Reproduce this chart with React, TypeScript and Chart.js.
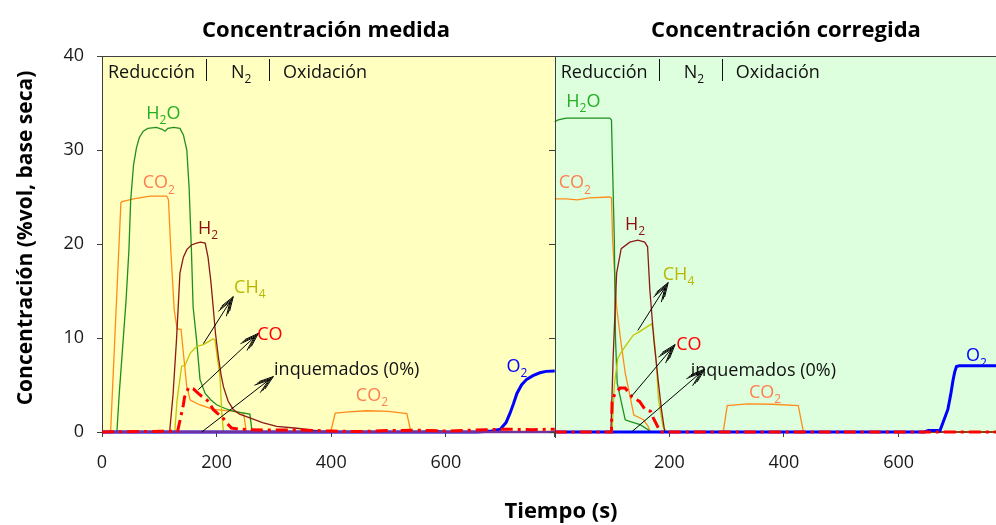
import { useEffect, useRef } from "react";
import { Chart, registerables } from "chart.js";
Chart.register(...registerables);

// ---------- axes ----------
const X_MAX_MEDIDA = 790;
const X_MAX_CORREGIDA = 770;
const X_TICKS_MEDIDA = [0, 200, 400, 600];
const X_TICKS_CORREGIDA = [200, 400, 600];
const Y_MIN = 0;
const Y_MAX = 40;
const Y_STEP = 10;

const TITLE_MEDIDA = "Concentración medida";
const TITLE_CORREGIDA = "Concentración corregida";
const Y_TITLE = "Concentración (%vol, base seca)";
const X_TITLE = "Tiempo (s)";
const PHASES = ["Reducción", "N_2", "Oxidación"];

// ---------- Concentración medida (time s, %vol) ----------
const H2O_M_T = [0, 26, 30, 36, 42, 47, 50, 55, 60, 65, 72, 80, 95, 105, 110, 115, 125, 136, 142, 148, 152, 156, 159, 165, 171, 180, 190, 200, 215, 230, 258, 262, 790];
const H2O_M = [0, 0, 4, 9, 14, 19.4, 24.6, 28.4, 30.2, 31.3, 32.0, 32.3, 32.4, 32.2, 32.0, 32.3, 32.4, 32.3, 31.6, 30.0, 26, 19.4, 13.3, 9.8, 5.6, 4.1, 3.4, 2.9, 2.5, 2.2, 1.9, 0, 0];

const CO2_M_T = [0, 15, 33, 35, 55, 84, 113, 116, 120, 126, 131, 138, 142, 148, 154, 170, 194, 212, 230, 247, 252, 399, 407, 430, 462, 500, 532, 539, 790];
const CO2_M = [0, 0, 24.4, 24.5, 24.8, 25.1, 25.1, 24.7, 19.4, 13, 11.0, 10.9, 8.4, 4.8, 3.4, 2.9, 2.4, 2.3, 2.2, 2.0, 0, 0, 2.0, 2.15, 2.26, 2.2, 1.95, 0, 0];

const H2_M_T = [0, 118, 124, 130, 136, 142, 148, 156, 165, 172, 180, 185, 190, 194, 198, 203, 208, 212, 220, 229, 240, 258, 280, 305, 340, 380, 400, 560, 575, 590, 605, 790];
const H2_M = [0, 0, 4, 9.8, 16.9, 18.6, 19.4, 19.9, 20.1, 20.2, 20.1, 18.6, 16, 13.3, 10.5, 8.0, 6.0, 4.8, 3.3, 2.4, 1.9, 1.5, 1.0, 0.6, 0.4, 0.1, 0, 0, 0.2, 0.1, 0, 0];

const CH4_M_T = [0, 127, 131, 139, 145, 154, 165, 177, 188, 194, 197, 206, 209, 212, 790];
const CH4_M = [0, 0, 3.4, 7.0, 7.1, 8.4, 9.1, 9.3, 9.7, 9.9, 9.8, 5.8, 2.0, 0, 0];

const CO_M_T = [0, 132, 137, 142, 144, 151, 159, 168, 174, 186, 194, 201, 209, 218, 226, 238, 260, 300, 350, 400, 450, 500, 550, 600, 650, 700, 750, 790];
const CO_M = [0, 0.1, 1.5, 2.9, 3.7, 4.7, 4.6, 4.1, 3.8, 3.25, 2.4, 2.0, 1.66, 0.95, 0.42, 0.3, 0.25, 0.2, 0.2, 0.1, 0.05, 0.15, 0.2, 0.1, 0.2, 0.3, 0.25, 0.3];

const O2_M_T = [0, 655, 680, 695, 705, 712, 718, 724, 732, 741, 752, 764, 775, 790];
const O2_M = [0, 0, 0.1, 0.3, 1.0, 2.0, 3.0, 4.1, 5.0, 5.6, 6.0, 6.3, 6.45, 6.5];

const INQ_M_T = [0, 790];
const INQ_M = [0, 0];

// ---------- Concentración corregida (time s, %vol) ----------
const H2O_C_T = [0, 6, 20, 96, 99, 101, 104, 106, 109, 114, 123, 132, 149, 163, 166, 770];
const H2O_C = [33.0, 33.2, 33.4, 33.4, 33.2, 28, 20.4, 10, 5.2, 3.8, 1.3, 1.1, 0.78, 0.24, 0, 0];

const CO2_C_T = [0, 20, 40, 60, 96, 99, 101, 108, 115, 123, 129, 135, 138, 155, 163, 167, 294, 301, 337, 380, 425, 434, 770];
const CO2_C = [24.8, 24.8, 24.7, 24.9, 25.0, 24.9, 20.4, 13.3, 9.8, 6.3, 4.5, 2.7, 1.8, 1.3, 0.6, 0, 0, 2.8, 3.0, 2.95, 2.8, 0, 0];

const H2_C_T = [0, 98, 102, 108, 116, 131, 145, 157, 162, 166, 173, 181, 186, 192, 770];
const H2_C = [0, 0, 8, 16.9, 19.5, 20.2, 20.4, 20.2, 19.7, 15.1, 9.8, 5.2, 2.5, 0, 0];

const CH4_C_T = [0, 100, 104, 110, 115, 123, 137, 146, 169, 172, 177, 181, 189, 196, 770];
const CH4_C = [0, 0, 5, 7.8, 8.4, 9.1, 10.3, 10.6, 11.5, 10.8, 7.7, 3.5, 0.5, 0, 0];

const CO_C_T = [0, 99, 100, 105, 114, 123, 132, 135, 148, 158, 167, 172, 181, 185, 770];
const CO_C = [0, 0, 3.2, 4.1, 4.67, 4.67, 3.96, 3.7, 3.25, 2.37, 2.2, 1.5, 0.4, 0, 0];

const O2_C_T = [0, 645, 652, 668, 672, 678, 686, 691, 695, 698, 701, 706, 712, 770];
const O2_C = [0, 0, 0.15, 0.15, 0.1, 1.1, 2.4, 4.0, 5.5, 6.4, 6.96, 7.04, 7.05, 7.05];

// ---------- annotations (data coords: panel time, %vol) ----------
const LABELS_MEDIDA = [
  { text: "H_2O", x: 107, y: 34.0, color: "#22b022" },
  { text: "CO_2", x: 99, y: 26.6, color: "#ff7f50" },
  { text: "H_2", x: 185, y: 21.8, color: "#8b1010" },
  { text: "CH_4", x: 258, y: 15.5, color: "#b8b800" },
  { text: "CO", x: 293, y: 10.5, color: "#ff0000" },
  { text: "inquemados (0%)", x: 427, y: 6.8, color: "#111111" },
  { text: "CO_2", x: 471, y: 4.0, color: "#ff7f50" },
  { text: "O_2", x: 724, y: 7.1, color: "#0000ff" },
];
const LABELS_CORREGIDA = [
  { text: "H_2O", x: 50, y: 35.3, color: "#22b022" },
  { text: "CO_2", x: 35, y: 26.6, color: "#ff7f50" },
  { text: "H_2", x: 140, y: 22.2, color: "#8b1010" },
  { text: "CH_4", x: 216, y: 16.9, color: "#b8b800" },
  { text: "CO", x: 234, y: 9.4, color: "#ff0000" },
  { text: "inquemados (0%)", x: 364, y: 6.6, color: "#111111" },
  { text: "CO_2", x: 367, y: 4.3, color: "#ff7f50" },
  { text: "O_2", x: 736, y: 8.2, color: "#0000ff" },
];
const ARROWS_MEDIDA = [
  { x0: 177, y0: 9.4, x1: 229, y1: 14.4 },
  { x0: 168, y0: 4.5, x1: 273, y1: 10.5 },
  { x0: 174, y0: 0, x1: 299, y1: 5.9 },
];
const ARROWS_CORREGIDA = [
  { x0: 145, y0: 10.8, x1: 198, y1: 15.9 },
  { x0: 134, y0: 3.8, x1: 210, y1: 9.3 },
  { x0: 134, y0: 0, x1: 262, y1: 6.7 },
];

const OFFSET = X_MAX_MEDIDA; // right panel starts where the left one ends

const FONT = '"Open Sans", "DejaVu Sans", sans-serif';
const BG_MEDIDA = "#ffffc0";
const BG_CORREGIDA = "#ddffdd";
const AXIS_COLOR = "#404040";
const TEXT_COLOR = "#1a1a1a";

const C_H2O = "#1f8f1f";
const C_CO2 = "#ff8c1a";
const C_H2 = "#8b1a1a";
const C_CH4 = "#c4c400";
const C_CO = "#ff0000";
const C_O2 = "#0000ff";
const C_INQ = "#7030a0";

function pts(t: number[], v: number[], off: number) {
  return t.map((x, i) => ({ x: x + off, y: v[i] }));
}

function parseRuns(s: string): [string, boolean][] {
  const runs: [string, boolean][] = [];
  const parts = s.split("_");
  runs.push([parts[0], false]);
  for (let i = 1; i < parts.length; i++) {
    runs.push([parts[i].charAt(0), true]);
    if (parts[i].length > 1) runs.push([parts[i].slice(1), false]);
  }
  return runs.filter((r) => r[0].length > 0);
}

function drawRuns(ctx: CanvasRenderingContext2D, s: string, x: number, yCenter: number, color: string, size: number, align: "center" | "left") {
  const runs = parseRuns(s);
  const mainF = `${size}px ${FONT}`;
  const subF = `${Math.round(size * 0.68)}px ${FONT}`;
  let total = 0;
  const widths = runs.map(([t, sub]) => {
    ctx.font = sub ? subF : mainF;
    const w = ctx.measureText(t).width;
    total += w;
    return w;
  });
  let cx = align === "center" ? x - total / 2 : x;
  const base = yCenter + size * 0.36;
  ctx.fillStyle = color;
  ctx.textAlign = "left";
  ctx.textBaseline = "alphabetic";
  runs.forEach(([t, sub], i) => {
    ctx.font = sub ? subF : mainF;
    ctx.fillText(t, cx, sub ? base + size * 0.3 : base);
    cx += widths[i];
  });
}

function drawArrow(ctx: CanvasRenderingContext2D, x0: number, y0: number, x1: number, y1: number) {
  const ang = Math.atan2(y1 - y0, x1 - x0);
  ctx.strokeStyle = "#000000";
  ctx.lineWidth = 1;
  ctx.beginPath();
  ctx.moveTo(x0, y0);
  ctx.lineTo(x1, y1);
  ctx.stroke();
  const len = 15;
  for (let k = 0; k < 3; k++) {
    const tx = x1 - Math.cos(ang) * k * 3;
    const ty = y1 - Math.sin(ang) * k * 3;
    const spread = 0.32;
    ctx.beginPath();
    ctx.moveTo(tx - Math.cos(ang - spread) * len, ty - Math.sin(ang - spread) * len);
    ctx.lineTo(tx, ty);
    ctx.lineTo(tx - Math.cos(ang + spread) * len, ty - Math.sin(ang + spread) * len);
    ctx.stroke();
  }
}

const decoPlugin = {
  id: "deco",
  beforeDraw(chart: any) {
    const { ctx, chartArea, scales } = chart;
    const mid = scales.x.getPixelForValue(OFFSET);
    ctx.save();
    ctx.fillStyle = BG_MEDIDA;
    ctx.fillRect(chartArea.left, chartArea.top, mid - chartArea.left, chartArea.bottom - chartArea.top);
    ctx.fillStyle = BG_CORREGIDA;
    ctx.fillRect(mid, chartArea.top, chartArea.right - mid, chartArea.bottom - chartArea.top);
    ctx.restore();
  },
  afterDatasetsDraw(chart: any) {
    const { ctx, chartArea, scales } = chart;
    const xs = scales.x;
    const ys = scales.y;
    const left = chartArea.left;
    const mid = xs.getPixelForValue(OFFSET);
    ctx.save();

    // frame lines
    ctx.strokeStyle = AXIS_COLOR;
    ctx.lineWidth = 1;
    ctx.beginPath();
    ctx.moveTo(left, chartArea.top + 0.5);
    ctx.lineTo(chartArea.right, chartArea.top + 0.5);
    ctx.moveTo(Math.round(mid) + 0.5, chartArea.top);
    ctx.lineTo(Math.round(mid) + 0.5, chartArea.bottom + 6);
    for (let v = Y_MIN; v <= Y_MAX; v += Y_STEP) {
      const py = Math.round(ys.getPixelForValue(v)) + 0.5;
      ctx.moveTo(Math.round(mid) - 6, py);
      ctx.lineTo(Math.round(mid), py);
    }
    ctx.stroke();

    // phase headers
    [left, mid].forEach((px0) => {
      const yc = 71.5;
      drawRuns(ctx, PHASES[0], px0 + 6, yc, "#111111", 18, "left");
      drawRuns(ctx, PHASES[1], px0 + 129, yc, "#111111", 18, "left");
      drawRuns(ctx, PHASES[2], px0 + 181, yc, "#111111", 18, "left");
      ctx.strokeStyle = "#111111";
      ctx.lineWidth = 1;
      ctx.beginPath();
      ctx.moveTo(Math.round(px0 + 104) + 0.5, 59);
      ctx.lineTo(Math.round(px0 + 104) + 0.5, 81);
      ctx.moveTo(Math.round(px0 + 167) + 0.5, 59);
      ctx.lineTo(Math.round(px0 + 167) + 0.5, 81);
      ctx.stroke();
    });

    // arrows
    ARROWS_MEDIDA.forEach((a) =>
      drawArrow(ctx, xs.getPixelForValue(a.x0), ys.getPixelForValue(a.y0), xs.getPixelForValue(a.x1), ys.getPixelForValue(a.y1))
    );
    ARROWS_CORREGIDA.forEach((a) =>
      drawArrow(ctx, xs.getPixelForValue(a.x0 + OFFSET), ys.getPixelForValue(a.y0), xs.getPixelForValue(a.x1 + OFFSET), ys.getPixelForValue(a.y1))
    );

    // series labels
    LABELS_MEDIDA.forEach((l) => drawRuns(ctx, l.text, xs.getPixelForValue(l.x), ys.getPixelForValue(l.y), l.color, 18, "center"));
    LABELS_CORREGIDA.forEach((l) => drawRuns(ctx, l.text, xs.getPixelForValue(l.x + OFFSET), ys.getPixelForValue(l.y), l.color, 18, "center"));

    // titles
    ctx.fillStyle = "#000000";
    ctx.textAlign = "center";
    ctx.textBaseline = "alphabetic";
    ctx.font = `bold 22px ${FONT}`;
    ctx.fillText(TITLE_MEDIDA, 326, 37);
    ctx.fillText(TITLE_CORREGIDA, 786, 37);
    ctx.fillText(X_TITLE, 561, 518);
    ctx.save();
    ctx.translate(32, 238);
    ctx.rotate(-Math.PI / 2);
    ctx.font = `bold 21px ${FONT}`;
    ctx.fillText(Y_TITLE, 0, 0);
    ctx.restore();

    ctx.restore();
  },
};

export default function App() {
  const ref = useRef<HTMLCanvasElement | null>(null);
  useEffect(() => {
    if (!ref.current) return;
    const line = (data: any, color: string, width: number, order: number, dash?: number[]) => ({
      data,
      borderColor: color,
      backgroundColor: color,
      borderWidth: width,
      pointRadius: 0,
      tension: 0,
      fill: false,
      order,
      borderDash: dash || [],
      clip: 4,
    });
    const tickValues = [
      ...X_TICKS_MEDIDA,
      X_MAX_MEDIDA,
      ...X_TICKS_CORREGIDA.map((v) => v + OFFSET),
    ];
    const chart = new Chart(ref.current, {
      type: "line",
      data: {
        datasets: [
          line(pts(CO_M_T, CO_M, 0), C_CO, 3, 0, [12, 5, 3, 5]),
          line(pts(INQ_M_T, INQ_M, 0), C_INQ, 2.5, 1),
          line(pts(O2_M_T, O2_M, 0), C_O2, 3, 2),
          line(pts(H2_M_T, H2_M, 0), C_H2, 1.3, 3),
          line(pts(CH4_M_T, CH4_M, 0), C_CH4, 1.3, 4),
          line(pts(H2O_M_T, H2O_M, 0), C_H2O, 1.3, 5),
          line(pts(CO2_M_T, CO2_M, 0), C_CO2, 1.3, 6),
          line(pts(O2_C_T, O2_C, OFFSET), C_O2, 3, 1),
          line(pts(CO_C_T, CO_C, OFFSET), C_CO, 3, 0, [12, 5, 3, 5]),
          line(pts(H2_C_T, H2_C, OFFSET), C_H2, 1.3, 3),
          line(pts(CH4_C_T, CH4_C, OFFSET), C_CH4, 1.3, 4),
          line(pts(H2O_C_T, H2O_C, OFFSET), C_H2O, 1.3, 5),
          line(pts(CO2_C_T, CO2_C, OFFSET), C_CO2, 1.3, 6),
        ],
      },
      options: {
        animation: false,
        responsive: false,
        devicePixelRatio: 1,
        layout: { padding: { top: 56, left: 0, right: 0, bottom: 0 } },
        plugins: { legend: { display: false }, tooltip: { enabled: false }, title: { display: false } },
        scales: {
          x: {
            type: "linear",
            min: 0,
            max: X_MAX_MEDIDA + X_MAX_CORREGIDA,
            afterFit: (s: any) => {
              s.height = 93;
            },
            afterBuildTicks: (s: any) => {
              s.ticks = tickValues.map((v) => ({ value: v }));
            },
            ticks: {
              autoSkip: false,
              maxRotation: 0,
              padding: 15,
              color: TEXT_COLOR,
              font: { family: FONT, size: 18 },
              callback: (v: any) => {
                const n = Number(v);
                if (n === X_MAX_MEDIDA) return "";
                return String(n > X_MAX_MEDIDA ? n - OFFSET : n);
              },
            },
            grid: { drawOnChartArea: false, tickLength: 5, color: AXIS_COLOR },
            border: { color: AXIS_COLOR, width: 1 },
          },
          y: {
            type: "linear",
            min: Y_MIN,
            max: Y_MAX,
            afterFit: (s: any) => {
              s.width = 102;
            },
            ticks: {
              stepSize: Y_STEP,
              padding: 13,
              color: TEXT_COLOR,
              font: { family: FONT, size: 18 },
            },
            grid: { drawOnChartArea: false, tickLength: 5, color: AXIS_COLOR },
            border: { color: AXIS_COLOR, width: 1 },
          },
        },
      },
      plugins: [decoPlugin],
    } as any);
    return () => chart.destroy();
  }, []);
  return (
    <div style={{ position: "absolute", left: 0, top: 0, width: 996, height: 525, background: "#ffffff" }}>
      <canvas ref={ref} width={996} height={525} style={{ display: "block" }} />
    </div>
  );
}
